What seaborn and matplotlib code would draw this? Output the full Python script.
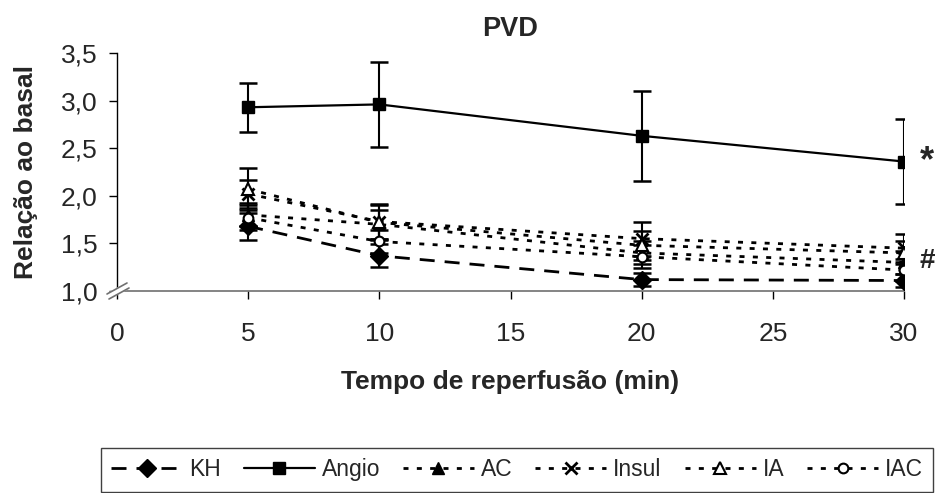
import matplotlib
matplotlib.use("Agg")
import matplotlib.pyplot as plt
import seaborn as sns

# ---- data ----
times = [5, 10, 20, 30]
series_names = ["KH", "Angio", "AC", "Insul", "IA", "IAC"]
kh = [1.68, 1.37, 1.12, 1.11]
kh_err = [0.14, 0.12, 0.07, 0.07]
angio = [2.93, 2.96, 2.63, 2.36]
angio_err = [0.26, 0.45, 0.47, 0.45]
ac = [1.80, 1.70, 1.40, 1.30]
ac_err = [0.12, 0.15, 0.12, 0.12]
insul = [2.02, 1.73, 1.55, 1.45]
insul_err = [0.15, 0.18, 0.18, 0.15]
ia = [2.07, 1.72, 1.48, 1.40]
ia_err = [0.22, 0.18, 0.15, 0.12]
iac = [1.77, 1.52, 1.36, 1.22]
iac_err = [0.13, 0.12, 0.12, 0.12]
x_ticks = [0, 5, 10, 15, 20, 25, 30]
y_ticks = [1.0, 1.5, 2.0, 2.5, 3.0, 3.5]
y_tick_labels = ["1,0", "1,5", "2,0", "2,5", "3,0", "3,5"]

sns.set_style("white")
plt.rcParams["font.family"] = ["Liberation Sans", "DejaVu Sans"]

W, H = 943, 493
fig = plt.figure(figsize=(W / 100, H / 100), dpi=100)
ax = fig.add_axes([117 / W, 1 - 291 / H, 787 / W, 238 / H])

values = [kh, angio, ac, insul, ia, iac]
errors = [kh_err, angio_err, ac_err, insul_err, ia_err, iac_err]
dot = (0, (1.8, 3.0))
styles = [
    dict(marker="D", markersize=9, markerfacecolor="black", linestyle=(0, (5.4, 3.6)), linewidth=2.0),
    dict(marker="s", markersize=9, markerfacecolor="black", linestyle="-", linewidth=1.6),
    dict(marker="^", markersize=9, markerfacecolor="black", linestyle=dot, linewidth=2.0),
    dict(marker="x", markersize=9, markeredgewidth=2, linestyle=dot, linewidth=2.0),
    dict(marker="^", markersize=9, markerfacecolor="white", markeredgewidth=1.5, linestyle=dot, linewidth=2.0),
    dict(marker="o", markersize=7, markerfacecolor="white", markeredgewidth=1.5, linestyle=dot, linewidth=2.0),
]

for name, vals, errs, st in zip(series_names, values, errors, styles):
    ax.errorbar(times, vals, yerr=errs, fmt="none", ecolor="black",
                elinewidth=1.5, capsize=6.2, capthick=1.8, zorder=2)
    kw = dict(st)
    kw.setdefault("markeredgewidth", 1.0)
    sns.lineplot(x=times, y=vals, ax=ax, color="black",
                 markeredgecolor="black", errorbar=None, label=name,
                 zorder=3, **kw)

ax.set_xlim(0, 30)
ax.set_ylim(1.0, 3.5)
ax.set_xticks(x_ticks)
ax.set_xticklabels([str(t) for t in x_ticks])
ax.set_yticks(y_ticks)
ax.set_yticklabels(y_tick_labels)

for s in ["top", "right"]:
    ax.spines[s].set_visible(False)
ax.spines["left"].set_color("black")
ax.spines["bottom"].set_color("#707070")
ax.spines["left"].set_linewidth(1.0)
ax.spines["bottom"].set_linewidth(1.2)
ax.tick_params(axis="both", direction="out", length=6, width=1, color="black",
               labelsize=19, left=True, bottom=True)
ax.tick_params(axis="x", pad=16)
ax.tick_params(axis="y", pad=8)

ax.set_title("PVD", fontsize=19.5, fontweight="bold", pad=12)
ax.set_xlabel("Tempo de reperfusão (min)", fontsize=19, fontweight="bold")
ax.set_ylabel("Relação ao basal", fontsize=19, fontweight="bold")
ax.xaxis.set_label_coords(0.5, -0.33)
ax.yaxis.set_label_coords(-0.10, 0.5)

# significance marks
ax.text(30.6, angio[-1], "*", fontsize=26, fontweight="bold", va="center", ha="left")
ax.text(30.6, 1.31, "#", fontsize=20, fontweight="bold", va="center", ha="left")

# axis break mark at origin
aw, ah = 787, 238
def px(dx, dy):
    return dx / aw, dy / ah
p1 = px(-10, -3); p2 = px(10, 8)
q1 = px(-8, -8); q2 = px(12, 3)
ax.fill([p1[0], p2[0], q2[0], q1[0]], [p1[1], p2[1], q2[1], q1[1]],
        transform=ax.transAxes, color="white", clip_on=False, zorder=5)
ax.plot([p1[0], p2[0]], [p1[1], p2[1]], transform=ax.transAxes, color="#707070",
        lw=1.2, clip_on=False, zorder=6)
ax.plot([q1[0], q2[0]], [q1[1], q2[1]], transform=ax.transAxes, color="#707070",
        lw=1.2, clip_on=False, zorder=6)

handles, labels = ax.get_legend_handles_labels()
leg = fig.legend(handles, labels, ncol=6, loc="upper center",
                 bbox_to_anchor=(517 / W, 1 - 448 / H),
                 prop={"size": 16.5},
                 frameon=True, fancybox=False, edgecolor="#404040",
                 framealpha=1, handlelength=3.1, columnspacing=1.0,
                 handletextpad=0.3, borderpad=0.45, borderaxespad=0)
leg.get_frame().set_linewidth(1.0)
if ax.get_legend() is not None:
    ax.get_legend().remove()

fig.savefig("out.png", dpi=100)
